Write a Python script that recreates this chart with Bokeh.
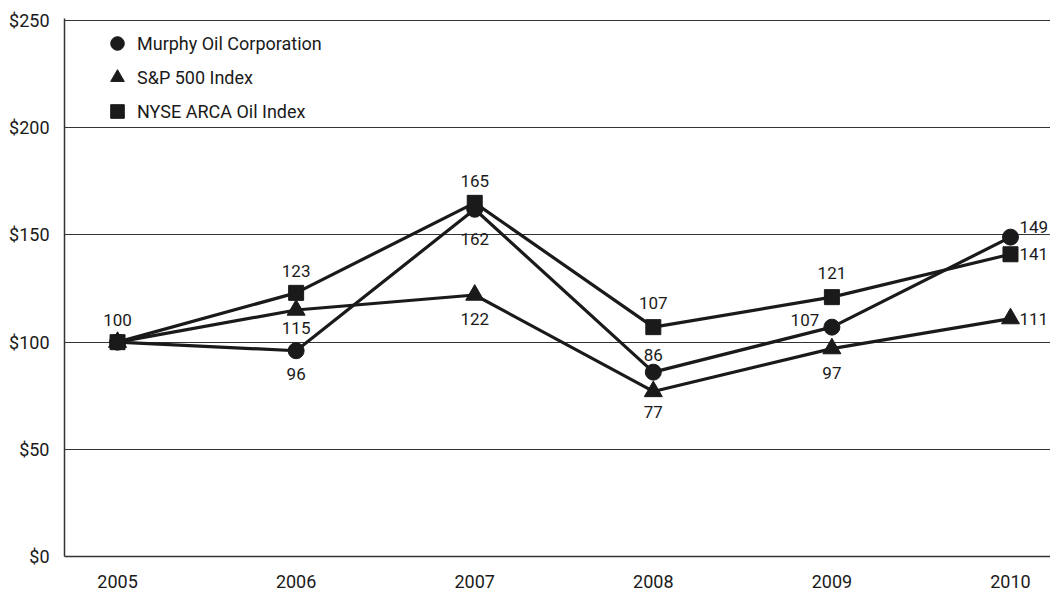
from bokeh.plotting import figure
from bokeh.models import ColumnDataSource, Legend, LegendItem, NumeralTickFormatter, FixedTicker, Range1d
from bokeh.core.properties import value
from bokeh.embed import file_html
from bokeh.resources import INLINE

years = [2005, 2006, 2007, 2008, 2009, 2010]
murphy = [100, 96, 162, 86, 107, 149]
sp500 = [100, 115, 122, 77, 97, 111]
nyse = [100, 123, 165, 107, 121, 141]
series_names = ["Murphy Oil Corporation", "S&P 500 Index", "NYSE ARCA Oil Index"]
y_ticks = [0, 50, 100, 150, 200, 250]

FONT = "Roboto"
FS = "18px"
LFS = "17px"
INK = "#1a1a1a"

p = figure(width=1050, height=596, output_backend="svg", toolbar_location=None,
           x_range=Range1d(2004.703, 2010.224), y_range=Range1d(0, 251),
           min_border_left=64, min_border_right=0, min_border_top=18, min_border_bottom=40)
p.outline_line_color = None
p.background_fill_color = "white"

# axes
p.yaxis.ticker = FixedTicker(ticks=y_ticks)
p.yaxis.formatter = NumeralTickFormatter(format="$0")
p.xaxis.ticker = FixedTicker(ticks=years)
for ax in (p.xaxis, p.yaxis):
    ax.major_tick_line_color = None
    ax.minor_tick_line_color = None
    ax.axis_line_color = "#333333"
    ax.axis_line_width = 1.5
    ax.major_label_text_font = FONT
    ax.major_label_text_font_size = FS
    ax.major_label_text_color = INK
p.xaxis.major_label_standoff = 12
p.yaxis.major_label_standoff = 9
p.xgrid.grid_line_color = None
p.ygrid.grid_line_color = "#333333"
p.ygrid.grid_line_width = 1.2

# series
lw = 3.2
p.line(years, murphy, line_color=INK, line_width=lw)
p.line(years, sp500, line_color=INK, line_width=lw)
p.line(years, nyse, line_color=INK, line_width=lw)
r_m = p.scatter(years, murphy, marker="circle", size=16, color=INK)
r_s = p.scatter(years, sp500, marker="triangle", size=18, color=INK)
r_n = p.scatter(years, nyse, marker="square", size=15, color=INK)

# value labels
def labels(vals, xo, yo, align, skip_first=False):
    xs, ys, ts, xos, yos, als = [], [], [], [], [], []
    for i, (yr, v) in enumerate(zip(years, vals)):
        if skip_first and i == 0:
            continue
        xs.append(yr); ys.append(v); ts.append(str(v))
        xos.append(xo[i]); yos.append(yo[i]); als.append(align[i])
    src = ColumnDataSource(dict(x=xs, y=ys, t=ts, xo=xos, yo=yos, al=als))
    p.text("x", "y", text="t", x_offset="xo", y_offset="yo", text_align="al",
           text_baseline="middle", text_font=value(FONT), text_font_size=LFS,
           text_color=INK, source=src)

labels(murphy, [0, 0, 0, 0, -27, 9], [-22, 23, 30, -17, -7, -10],
       ["center", "center", "center", "center", "center", "left"])
labels(sp500, [0, 0, 0, 0, 0, 9], [0, 18, 24, 21, 24, 0],
       ["center"] * 5 + ["left"], skip_first=True)
labels(nyse, [0, 0, 0, 0, 0, 9], [0, -22, -22, -24, -24, 0],
       ["center"] * 5 + ["left"], skip_first=True)

legend = Legend(items=[LegendItem(label=series_names[0], renderers=[r_m]),
                       LegendItem(label=series_names[1], renderers=[r_s]),
                       LegendItem(label=series_names[2], renderers=[r_n])])
legend.border_line_color = None
legend.background_fill_alpha = 0
legend.label_text_font = FONT
legend.label_text_font_size = FS
legend.label_text_color = INK
legend.glyph_width = 40
legend.glyph_height = 34
legend.label_standoff = 0
legend.spacing = 0
legend.padding = 0
legend.margin = 0
legend.location = (33, 428)
p.add_layout(legend)

open("out.html", "w").write(file_html(p, INLINE))
